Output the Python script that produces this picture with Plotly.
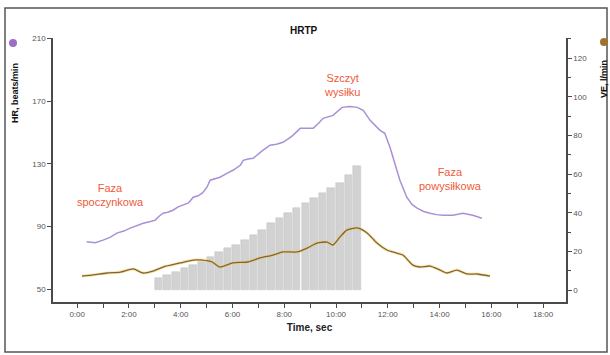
import plotly.graph_objects as go

# ---------------- data ----------------
# Heart rate (beats/min) vs time (s)
hr_time = [22, 42, 60, 76, 92, 108, 123, 138, 153, 168, 181, 190, 199, 210, 222, 234, 246, 258, 269,
           280, 290, 301, 308, 320, 331, 347, 362, 378, 385, 396, 408, 428, 447, 462, 477, 490, 500,
           517, 532, 547, 560, 570, 593, 605, 614, 632, 649, 663, 679, 702, 713, 725, 737, 748, 764,
           776, 788, 803, 818, 833, 848, 871, 894, 917, 938]
hr_vals = [80.1, 79.5, 81.2, 83.0, 85.7, 87.0, 88.9, 90.5, 92.0, 93.0, 94.0, 96.5, 98.4, 99.0, 100.3,
           102.5, 103.5, 105.0, 108.6, 109.5, 111.2, 115.0, 119.5, 120.5, 121.4, 123.9, 126.0, 129.0,
           132.2, 133.0, 133.5, 138.0, 141.8, 142.5, 143.7, 146.0, 148.1, 152.6, 152.8, 152.6, 156.0,
           159.0, 160.9, 163.5, 166.0, 166.6, 166.0, 164.1, 157.7, 151.3, 149.4, 140.5, 130.3, 119.5,
           108.6, 104.0, 101.6, 99.5, 98.4, 97.5, 97.1, 97.1, 98.4, 97.1, 95.2]

# Minute ventilation (l/min) vs time (s)
ve_time = [11, 37, 69, 100, 130, 153, 176, 199, 239, 269, 290, 313, 331, 361, 394, 424, 454, 477, 510,
           533, 556, 579, 593, 609, 625, 649, 672, 695, 718, 741, 755, 778, 795, 818, 841, 857, 880,
           903, 927, 957]
ve_vals = [7.2, 7.8, 8.8, 9.3, 10.9, 8.8, 9.8, 11.9, 14.0, 15.5, 15.5, 14.5, 11.9, 14.0, 14.5, 16.6,
           18.1, 19.7, 19.7, 21.7, 24.3, 24.8, 23.3, 27.4, 31.0, 32.1, 29.5, 24.3, 20.7, 19.1, 18.1,
           12.9, 11.9, 12.4, 10.3, 8.8, 10.3, 8.3, 8.3, 7.2]

# Load steps (bars), start time of each 20 s step and its height (right-axis units)
load_time = [180, 200, 220, 240, 260, 280, 300, 320, 340, 360, 380, 400,
             420, 440, 460, 480, 500, 520, 540, 560, 580, 600, 620, 640]
load_vals = [6.2, 7.8, 9.3, 11.4, 12.9, 14.5, 17.1, 19.7, 21.7, 23.3, 25.9, 28.5,
             31.0, 34.7, 37.2, 39.8, 42.4, 45.0, 47.6, 50.2, 52.8, 55.4, 59.5, 64.1]

x_tickvals = [0, 120, 240, 360, 480, 600, 720, 840, 960, 1080]
x_ticktext = ["0:00", "2:00", "4:00", "6:00", "8:00", "10:00", "12:00", "14:00", "16:00", "18:00"]
hr_tickvals = [50, 90, 130, 170, 210]
ve_tickvals = [0, 20, 40, 60, 80, 100, 120]

# ---------------- layout helpers ----------------
W, H = 610, 355
L, R, T, B = 53, 566, 38, 302


def px(x):
    return (x - L) / (R - L)


def py(y):
    return (B - y) / (B - T)


FONT = "Arial, Liberation Sans, sans-serif"
AX = "#4a4a4a"
TICKF = dict(family=FONT, size=8, color="#555555")
RED = "#ef5a3a"

fig = go.Figure()

fig.add_trace(go.Bar(
    x=load_time, y=load_vals, width=17.5, offset=0, yaxis="y2",
    marker=dict(color="#d2d2d2", line=dict(color="#c4c4c4", width=0.5)),
    showlegend=False, hoverinfo="skip"))

fig.add_trace(go.Scatter(
    x=ve_time, y=ve_vals, yaxis="y2", mode="lines",
    line=dict(color="rgba(236,200,90,0.45)", width=3.0, shape="spline", smoothing=0.6),
    showlegend=False, hoverinfo="skip"))
fig.add_trace(go.Scatter(
    x=ve_time, y=ve_vals, yaxis="y2", mode="lines", name="VE",
    line=dict(color="#85652a", width=1.3, shape="spline", smoothing=0.6),
    showlegend=False))

fig.add_trace(go.Scatter(
    x=hr_time, y=hr_vals, yaxis="y", mode="lines", name="HR",
    line=dict(color="#a890d6", width=1.5),
    showlegend=False))

fig.update_layout(
    width=W, height=H, autosize=False,
    margin=dict(l=L, r=W - R, t=T, b=H - B, autoexpand=False),
    paper_bgcolor="white", plot_bgcolor="white",
    font=dict(family=FONT),
    bargap=0,
    xaxis=dict(
        range=[-56, 1133], showgrid=False, zeroline=False,
        showline=True, linecolor=AX, linewidth=1.5,
        ticks="outside", ticklen=4, tickcolor=AX, tickwidth=1,
        tickvals=x_tickvals, ticktext=x_ticktext, tickfont=TICKF,
        minor=dict(tickvals=[60, 180, 300, 420, 540, 660, 780, 900, 1020],
                   ticks="outside", ticklen=4, tickcolor=AX, showgrid=False),
        title=dict(text="<b>Time, sec</b>", font=dict(family=FONT, size=10, color="#222"), standoff=6),
    ),
    yaxis=dict(
        range=[41.7, 210.3], showgrid=False, zeroline=False,
        showline=True, linecolor=AX, linewidth=1.5,
        ticks="outside", ticklen=4, tickcolor=AX,
        tickvals=hr_tickvals, tickfont=TICKF,
    ),
    yaxis2=dict(
        range=[-6.2, 130.4], overlaying="y", side="right", showgrid=False, zeroline=False,
        showline=True, linecolor=AX, linewidth=1.5,
        ticks="outside", ticklen=4, tickcolor=AX,
        tickvals=ve_tickvals, tickfont=TICKF,
        minor=dict(dtick=10, tick0=0, ticks="outside", ticklen=3, tickcolor=AX, showgrid=False),
    ),
)


def note(text, x, y, size, color, angle=0):
    return dict(text=text, x=px(x), y=py(y), xref="paper", yref="paper",
                xanchor="center", yanchor="middle", showarrow=False, textangle=angle,
                font=dict(family=FONT, size=size, color=color))


ann = [
    note("<b>HRTP</b>", 304, 31, 10, "#111"),
    note("<b>HR, beats/min</b>", 15, 93, 9, "#111", -90),
    note("<b>VE, l/min</b>", 604, 79, 9, "#111", -90),
    note("Faza<br>spoczynkowa", 110, 195, 11, RED),
    note("Szczyt<br>wysiłku", 342, 85, 11, RED),
    note("Faza<br>powysiłkowa", 450, 179, 11, RED),
]
fig.update_layout(annotations=ann)

shapes = [
    dict(type="rect", xref="paper", yref="paper", x0=px(5), x1=px(607), y0=py(352), y1=py(8),
         line=dict(color="#555555", width=1.5), fillcolor="rgba(0,0,0,0)", layer="below"),
    dict(type="circle", xref="paper", yref="paper", x0=px(9), x1=px(17), y0=py(47), y1=py(39),
         line=dict(width=0), fillcolor="#9b70c4"),
    dict(type="circle", xref="paper", yref="paper", x0=px(600), x1=px(608), y0=py(46), y1=py(38),
         line=dict(width=0), fillcolor="#a0722e"),
]
fig.update_layout(shapes=shapes)

fig.write_html("out.html", config={"displayModeBar": False},
               post_script="document.body.style.margin='0';document.body.style.padding='0';")
